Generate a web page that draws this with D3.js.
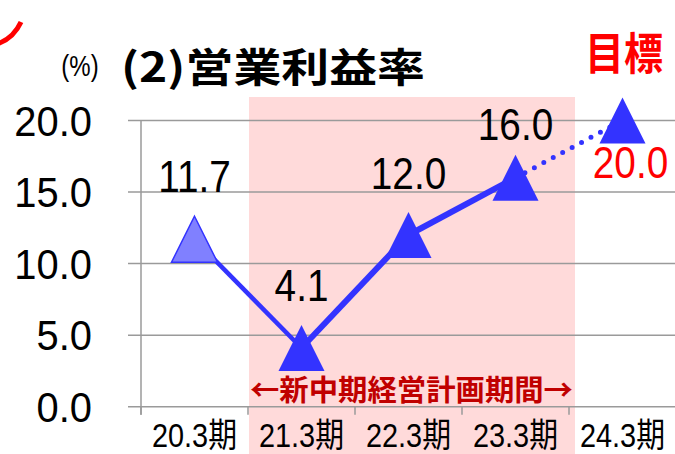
<!DOCTYPE html>
<html>
<head>
<meta charset="utf-8">
<script src="https://cdn.jsdelivr.net/npm/d3@7"></script>
<style>
  html, body { margin: 0; padding: 0; background: #fff; }
  svg { display: block; }
</style>
</head>
<body>
<div id="chart"></div>
<script>
// data
const categories = ["20.3期", "21.3期", "22.3期", "23.3期", "24.3期"];
const actualValues = [11.7, 4.1, 12.0, 16.0];
const targetValue = 20.0;
const yTicks = [0, 5, 10, 15, 20];
const planPeriod = ["21.3期", "22.3期", "23.3期"];
const titleText = "(2)営業利益率";
const unitText = "(%)";
const targetText = "目標";
const planText = "←新中期経営計画期間→";

const width = 675, height = 454;
const blue = "#3333ff", grid = "#9a9a9a";
const jp = "'Noto Sans CJK JP', 'Noto Sans', sans-serif";
const num = "'Liberation Sans', 'Noto Sans CJK JP', sans-serif";

const svg = d3.select("#chart").append("svg")
    .attr("width", width)
    .attr("height", height)
    .style("font-family", jp);

const x = d3.scaleBand().domain(categories).range([141, 141 + 107 * categories.length]);
const y = d3.scaleLinear().domain([0, 20]).range([406.7, 120.5]);
const fmt = d3.format(".1f");
const cx = c => x(c) + x.bandwidth() / 2;

// helper: squeezed text at (px, py)
function txt(g, s, px, py, size, o = {}) {
    return g.append("text")
        .attr("transform", `translate(${px},${py}) scale(${o.sx || 1},1)`)
        .attr("text-anchor", o.anchor || "middle")
        .attr("font-family", o.font || num)
        .attr("font-size", size)
        .attr("font-weight", o.weight || "normal")
        .attr("fill", o.fill || "#000")
        .text(s);
}

// red corner of the neighbouring frame
svg.append("path")
    .attr("d", "M-6,45 A42,42 0 0 0 21,22")
    .attr("fill", "none")
    .attr("stroke", "#ff0000")
    .attr("stroke-width", 5);

// plan period shading
const p0 = x(planPeriod[0]), p1 = x(planPeriod[planPeriod.length - 1]) + x.bandwidth();
svg.append("rect")
    .attr("x", p0 + 1).attr("y", 97)
    .attr("width", p1 - p0 + 5).attr("height", height - 97)
    .attr("fill", "#ffdada");

// gridlines + y ticks
svg.append("g").selectAll("line")
    .data(yTicks).enter().append("line")
    .attr("x1", 128).attr("x2", width)
    .attr("y1", d => y(d)).attr("y2", d => y(d))
    .attr("stroke", grid).attr("stroke-width", 1.5);

// y axis line
svg.append("line")
    .attr("x1", 141).attr("x2", 141)
    .attr("y1", y(20)).attr("y2", y(0) + 8)
    .attr("stroke", grid).attr("stroke-width", 1.5);

// x ticks at band edges
const edges = categories.map(c => x(c)).concat([x.range()[1]]);
svg.append("g").selectAll("line")
    .data(edges).enter().append("line")
    .attr("x1", d => d).attr("x2", d => d)
    .attr("y1", y(0)).attr("y2", y(0) + 8)
    .attr("stroke", grid).attr("stroke-width", 1.5);

// y labels
const yl = svg.append("g");
yTicks.forEach(t => txt(yl, fmt(t), 92, y(t) + 15, 42, { anchor: "end", sx: 0.95 }));

// x labels
const xl = svg.append("g");
categories.forEach(c => {
    xl.append("text")
        .attr("x", cx(c) - 42.5).attr("y", 446.5)
        .attr("font-family", num)
        .attr("font-size", 34)
        .attr("textLength", 85)
        .attr("lengthAdjust", "spacingAndGlyphs")
        .text(c);
});

// plan period caption
svg.append("text")
    .attr("x", p0 + 2).attr("y", 401)
    .attr("font-size", 29).attr("font-weight", "bold")
    .attr("fill", "#c00000")
    .attr("textLength", 323)
    .attr("lengthAdjust", "spacingAndGlyphs")
    .text(planText);

// lines
const pts = actualValues.map((v, i) => [cx(categories[i]), y(v)]);
const segWidth = [4.5, 6, 6];
d3.pairs(pts).forEach((pr, i) => {
    svg.append("path")
        .attr("d", d3.line()(pr))
        .attr("fill", "none")
        .attr("stroke", blue)
        .attr("stroke-width", segWidth[i]);
});
const tpt = [cx(categories[categories.length - 1]), y(targetValue)];
svg.append("path")
    .attr("d", d3.line()([pts[pts.length - 1], tpt]))
    .attr("fill", "none")
    .attr("stroke", blue)
    .attr("stroke-width", 5)
    .attr("stroke-linecap", "round")
    .attr("stroke-dasharray", "0 10.7");

// triangle markers
const tri = "M0,-23L23,23L-23,23Z";
svg.append("g").selectAll("path")
    .data(pts.concat([tpt])).enter().append("path")
    .attr("d", tri)
    .attr("transform", d => `translate(${d[0]},${d[1]})`)
    .attr("fill", (d, i) => i === 0 ? "#8080ff" : blue)
    .attr("stroke", (d, i) => i === 0 ? blue : "none")
    .attr("stroke-width", 1.5);

// data labels
const labelDy = [-47, -47, -46, -38];
const dl = svg.append("g");
actualValues.forEach((v, i) => txt(dl, fmt(v), pts[i][0], pts[i][1] + labelDy[i], 44, { sx: 0.88 }));
txt(dl, fmt(targetValue), tpt[0] + 8, tpt[1] + 57, 44, { sx: 0.88, fill: "#ff0000" });

// titles
txt(svg, unitText, 80, 76, 30, { sx: 0.8 });
svg.append("text")
    .attr("x", 121).attr("y", 82)
    .attr("font-size", 40).attr("font-weight", "bold")
    .attr("textLength", 304)
    .attr("lengthAdjust", "spacingAndGlyphs")
    .text(titleText);
svg.append("text")
    .attr("x", 585).attr("y", 70)
    .attr("font-size", 44).attr("font-weight", "bold")
    .attr("fill", "#ff0000")
    .attr("textLength", 78)
    .attr("lengthAdjust", "spacingAndGlyphs")
    .text(targetText);
</script>
</body>
</html>
